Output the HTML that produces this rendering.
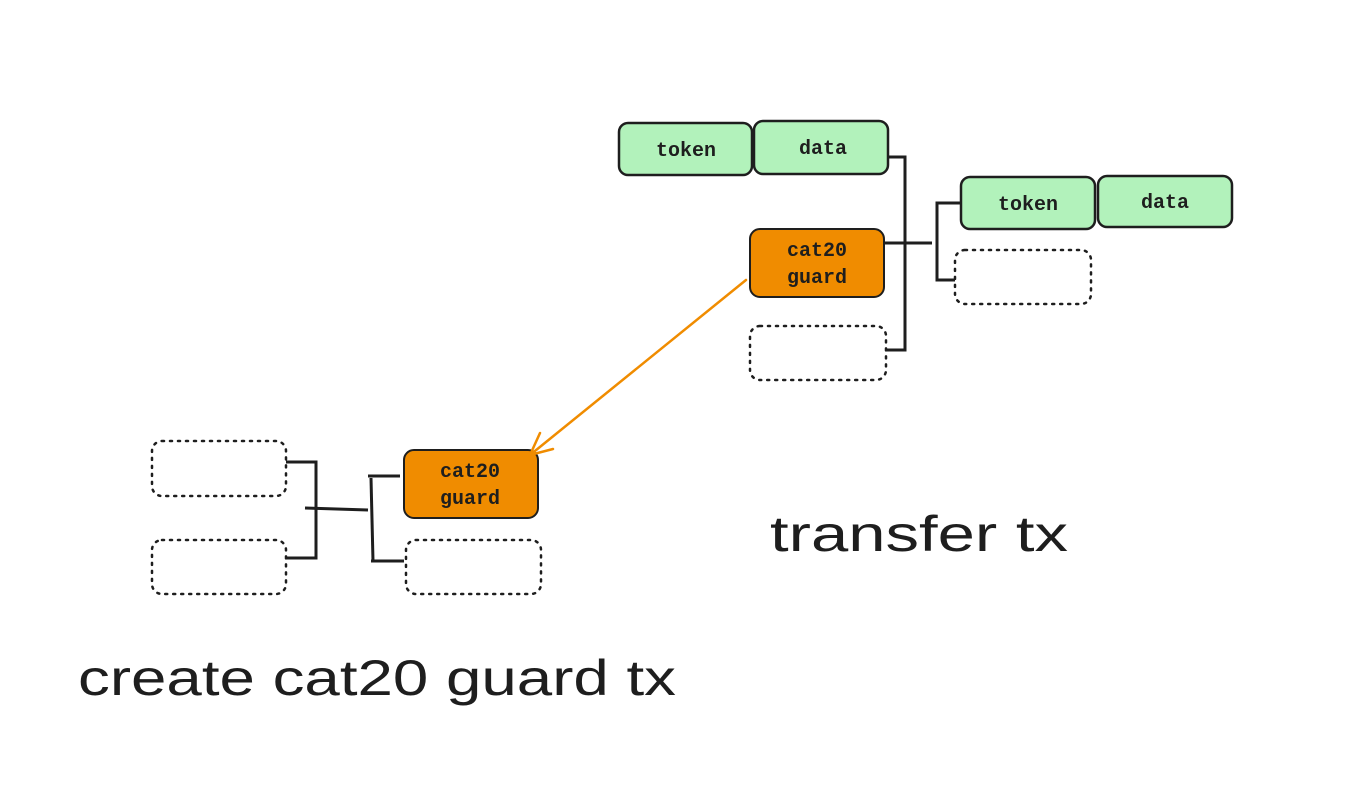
<!DOCTYPE html>
<html><head><meta charset="utf-8"><style>
html,body{margin:0;padding:0;background:#fff;}
svg{display:block;}
.lbl{font-family:"Liberation Mono","DejaVu Sans Mono",monospace;font-size:20px;fill:#1e1e1e;font-weight:bold;}
.big{font-family:"Liberation Sans",sans-serif;font-size:50px;fill:#1e1e1e;}
</style></head><body>
<svg width="1358" height="800" viewBox="0 0 1358 800" xmlns="http://www.w3.org/2000/svg">
<rect width="1358" height="800" fill="#fff"/>
<g stroke="#1e1e1e" stroke-width="2.5" fill="#b2f2bb">
<rect x="619" y="123" width="133" height="52" rx="9"/>
<rect x="754" y="121" width="134" height="53" rx="9"/>
<rect x="961" y="177" width="134" height="52" rx="9"/>
<rect x="1098" y="176" width="134" height="51" rx="9"/>
</g>
<g stroke="#1e1e1e" stroke-width="2" fill="#f08c00">
<rect x="750" y="229" width="134" height="68" rx="10"/>
<rect x="404" y="450" width="134" height="68" rx="10"/>
</g>
<g stroke="#1e1e1e" stroke-width="2.5" fill="none" stroke-dasharray="2 6" stroke-linecap="round">
<rect x="955" y="250" width="136" height="54" rx="10"/>
<rect x="750" y="326" width="136" height="54" rx="10"/>
<rect x="152" y="441" width="134" height="55" rx="10"/>
<rect x="152" y="540" width="134" height="54" rx="10"/>
<rect x="406" y="540" width="135" height="54" rx="10"/>
</g>
<g stroke="#1e1e1e" stroke-width="3" fill="none">
<polyline points="888,157 905,157 905,350 886,350"/>
<line x1="884" y1="243" x2="932" y2="243"/>
<polyline points="960,203 937,203 937,280 955,280"/>
<polyline points="286,462 316,462 316,558 286,558"/>
<line x1="305" y1="508" x2="368" y2="510"/>
<line x1="368" y1="476" x2="400" y2="476"/>
<line x1="371" y1="478" x2="373" y2="561"/>
<line x1="371" y1="561" x2="404" y2="561"/>
</g>
<g stroke="#f08c00" stroke-width="2.5" fill="none" stroke-linecap="round">
<line x1="746" y1="280" x2="530" y2="455"/>
<polyline points="540,433 530,455 553,449"/>
</g>
<g class="lbl" text-anchor="middle">
<text x="686" y="156">token</text>
<text x="823" y="154">data</text>
<text x="1028" y="210">token</text>
<text x="1165" y="208">data</text>
<text x="817" y="256">cat20</text>
<text x="817" y="283">guard</text>
<text x="470" y="477">cat20</text>
<text x="470" y="504">guard</text>
</g>
<text class="big" x="770" y="551" textLength="298" lengthAdjust="spacingAndGlyphs">transfer tx</text>
<text class="big" x="78" y="695" textLength="598" lengthAdjust="spacingAndGlyphs">create cat20 guard tx</text>
</svg>
</body></html>
